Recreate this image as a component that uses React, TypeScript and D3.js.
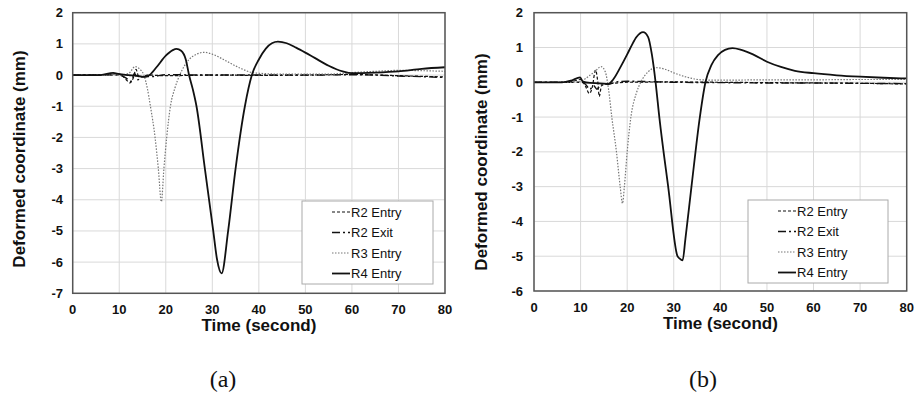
import React from "react";
import * as d3 from "d3";

// ---------- data (a) ----------
const xTicks = [0, 10, 20, 30, 40, 50, 60, 70, 80];
const yTicksA = [2, 1, 0, -1, -2, -3, -4, -5, -6, -7];
const yTicksB = [2, 1, 0, -1, -2, -3, -4, -5, -6];
const seriesNames = ["R2 Entry", "R2 Exit", "R3 Entry", "R4 Entry"];

const a_r2entry_t = [0, 8, 9.5, 10.5, 11.5, 12.3, 13, 13.6, 14.2, 15, 16, 20, 30, 40, 50, 60, 70, 75, 80];
const a_r2entry_v = [0, 0.02, 0.05, 0.0, -0.15, -0.25, -0.1, 0.18, -0.05, -0.05, 0, -0.02, 0, -0.01, 0, 0.02, -0.02, -0.04, -0.06];
const a_r2exit_t = [0, 10, 11.5, 12.5, 13.3, 14, 15, 17, 20, 30, 40, 50, 60, 65, 70, 75, 80];
const a_r2exit_v = [0, 0, -0.1, -0.2, 0.05, -0.15, -0.05, -0.05, 0.01, 0, 0, 0, 0.01, 0.0, -0.03, -0.05, -0.08];
const a_r3_t = [0, 10, 12, 13.4, 14.5, 15.3, 16, 16.7, 17.7, 18.4, 19.05, 19.6, 20.2, 21.0, 22, 23, 25, 26.5, 28.2, 30, 33, 36, 39, 45, 55, 60, 65, 70, 75, 80];
const a_r3_v = [0, 0, 0.05, 0.27, 0.18, 0.0, -0.4, -1, -2, -3, -4.06, -3, -2, -1, -0.4, 0, 0.5, 0.66, 0.73, 0.67, 0.45, 0.22, 0.07, 0.03, 0.03, 0.08, 0.12, 0.15, 0.14, 0.12];
const a_r4_t = [0, 6, 8.7, 10, 12, 14, 15.5, 16.5, 18, 20, 21.5, 22.3, 23.3, 24.3, 25, 25.8, 26.6, 28.4, 30.2, 31, 32, 33.4, 35, 37, 38.5, 40, 41.5, 42.8, 44.1, 46, 48, 50, 52, 55, 58, 60, 65, 70, 75, 80];
const a_r4_v = [0, 0, 0.07, 0.03, 0.0, -0.03, -0.06, 0.0, 0.25, 0.62, 0.8, 0.84, 0.78, 0.5, 0, -0.45, -1, -3, -5, -5.9, -6.36, -5, -3, -1, 0, 0.5, 0.85, 1.02, 1.07, 1.02, 0.88, 0.72, 0.55, 0.3, 0.12, 0.06, 0.08, 0.12, 0.2, 0.25];

// ---------- data (b) ----------
const b_r2entry_t = [0, 7, 9, 10, 11, 11.9, 12.5, 13.2, 13.7, 14.0, 14.5, 15.5, 17, 20, 30, 40, 50, 60, 70, 80];
const b_r2entry_v = [0, 0, 0.05, 0.08, -0.1, -0.32, -0.15, 0.35, 0.0, -0.41, -0.1, -0.05, -0.03, 0.0, 0.01, 0, -0.01, -0.02, -0.03, -0.05];
const b_r2exit_t = [0, 10, 11, 12, 12.8, 13.5, 14.5, 16, 18, 20, 30, 40, 50, 60, 70, 80];
const b_r2exit_v = [0, 0, -0.05, -0.2, -0.1, -0.2, -0.05, -0.05, 0.02, 0.03, 0, -0.01, -0.02, -0.02, -0.03, -0.04];
const b_r3_t = [0, 8, 10, 11, 12, 13, 14.4, 15.3, 16, 16.7, 17.7, 18.5, 19.0, 19.4, 20.0, 20.8, 22, 22.9, 24.5, 26.2, 28, 30, 33, 36, 40, 50, 60, 70, 80];
const b_r3_v = [0, 0, 0.02, 0.1, 0.2, 0.3, 0.45, 0.3, -0.2, -1, -2, -3, -3.48, -3, -2, -1, -0.3, 0, 0.3, 0.42, 0.38, 0.27, 0.14, 0.07, 0.06, 0.07, 0.07, 0.08, 0.08];
const b_r4_t = [0, 6, 8, 9.9, 10.5, 12, 14, 16, 17, 18.5, 20, 21, 22, 23.4, 24.5, 25.3, 26.1, 26.9, 28.8, 30.8, 31.2, 31.9, 32.5, 33.8, 35.6, 36.8, 38.1, 39.5, 41, 42.6, 44.5, 47, 50, 53, 56, 60, 65, 70, 75, 80];
const b_r4_v = [0, 0, 0.05, 0.14, 0.02, -0.02, -0.03, -0.05, 0.08, 0.42, 0.8, 1.07, 1.3, 1.44, 1.3, 0.8, 0, -1, -3, -5, -5.06, -5.12, -4.5, -3, -1, 0, 0.5, 0.78, 0.93, 0.98, 0.93, 0.8, 0.59, 0.44, 0.33, 0.26, 0.2, 0.16, 0.13, 0.11];

const styles = [
  { stroke: "#111", width: 1.2, dash: "3,2" },
  { stroke: "#111", width: 1.4, dash: "8,3,2,3" },
  { stroke: "#777", width: 1.2, dash: "1.5,1.5" },
  { stroke: "#111", width: 1.8, dash: "" },
];

const FONT = "'Liberation Sans', Arial, sans-serif";

type PanelProps = {
  left: number; right: number; top: number; bottom: number;
  yTicks: number[]; series: [number[], number[]][];
  ytickX: number; ytitleX: number; ytitleY: number; xtickY: number; xtitleY: number;
  legend: { x: number; y: number; w: number; h: number };
  caption: string; captionX: number;
};

function Panel(p: PanelProps) {
  const x = d3.scaleLinear().domain([0, 80]).range([p.left, p.right]);
  const yMin = d3.min(p.yTicks) as number;
  const yMax = d3.max(p.yTicks) as number;
  const y = d3.scaleLinear().domain([yMin, yMax]).range([p.bottom, p.top]);
  const line = d3.line<[number, number]>().x((d) => x(d[0])).y((d) => y(d[1])).curve(d3.curveMonotoneX);
  const lx = p.legend.x + 30;
  return (
    <g>
      {xTicks.map((t) => (
        <line key={"gx" + t} x1={x(t)} x2={x(t)} y1={p.top} y2={p.bottom} stroke="#d9d9d9" strokeWidth={1} />
      ))}
      {p.yTicks.map((t) => (
        <line key={"gy" + t} x1={p.left} x2={p.right} y1={y(t)} y2={y(t)} stroke="#d9d9d9" strokeWidth={1} />
      ))}
      {p.series.map((s, i) => {
        const pts = s[0].map((t, k) => [t, s[1][k]] as [number, number]);
        return (
          <path key={"s" + i} d={line(pts) || ""} fill="none" stroke={styles[i].stroke}
            strokeWidth={styles[i].width} strokeDasharray={styles[i].dash} />
        );
      })}
      <rect x={p.left} y={p.top} width={p.right - p.left} height={p.bottom - p.top} fill="none" stroke="#555" strokeWidth={1.5} />
      {p.yTicks.map((t) => (
        <text key={"ty" + t} x={p.ytickX} y={y(t)} dy="0.35em" textAnchor="end" fontFamily={FONT} fontWeight="bold" fontSize={13} fill="#111">{t}</text>
      ))}
      {xTicks.map((t) => (
        <text key={"tx" + t} x={x(t)} y={p.xtickY} dy="0.35em" textAnchor="middle" fontFamily={FONT} fontWeight="bold" fontSize={13} fill="#111">{t}</text>
      ))}
      <text x={(p.left + p.right) / 2} y={p.xtitleY} dy="0.35em" textAnchor="middle" fontFamily={FONT} fontWeight="bold" fontSize={17} fill="#111">Time (second)</text>
      <text transform={`translate(${p.ytitleX},${p.ytitleY}) rotate(-90)`} dy="0.35em" textAnchor="middle" fontFamily={FONT} fontWeight="bold" fontSize={17} fill="#111">Deformed coordinate (mm)</text>
      <rect x={p.legend.x} y={p.legend.y} width={p.legend.w} height={p.legend.h} fill="#fff" stroke="#aaa" strokeWidth={1} />
      {seriesNames.map((n, i) => {
        const yy = p.legend.y + 11 + i * 20.5;
        return (
          <g key={"lg" + i}>
            <line x1={lx} x2={lx + 18} y1={yy} y2={yy} stroke={styles[i].stroke} strokeWidth={styles[i].width} strokeDasharray={styles[i].dash} />
            <text x={lx + 19} y={yy} dy="0.35em" fontFamily={FONT} fontSize={13} fill="#111">{n}</text>
          </g>
        );
      })}
      <text x={p.captionX} y={387} textAnchor="middle" fontFamily="'Liberation Serif', 'Times New Roman', serif" fontSize={24} fill="#111">{p.caption}</text>
    </g>
  );
}

export default function App() {
  return (
    <svg width={916} height={394} style={{ position: "absolute", left: 0, top: 0, background: "#fff" }}>
      <rect width={916} height={394} fill="#fff" />
      <Panel left={72.7} right={445} top={12.7} bottom={293.3} yTicks={yTicksA}
        series={[[a_r2entry_t, a_r2entry_v], [a_r2exit_t, a_r2exit_v], [a_r3_t, a_r3_v], [a_r4_t, a_r4_v]]}
        ytickX={63} ytitleX={19} ytitleY={159} xtickY={309} xtitleY={325}
        legend={{ x: 302, y: 201, w: 131, h: 83 }} caption="(a)" captionX={223} />
      <Panel left={534} right={906.7} top={12.7} bottom={291} yTicks={yTicksB}
        series={[[b_r2entry_t, b_r2entry_v], [b_r2exit_t, b_r2exit_v], [b_r3_t, b_r3_v], [b_r4_t, b_r4_v]]}
        ytickX={523} ytitleX={481} ytitleY={162} xtickY={307} xtitleY={323}
        legend={{ x: 748, y: 200, w: 140, h: 83 }} caption="(b)" captionX={703} />
    </svg>
  );
}
